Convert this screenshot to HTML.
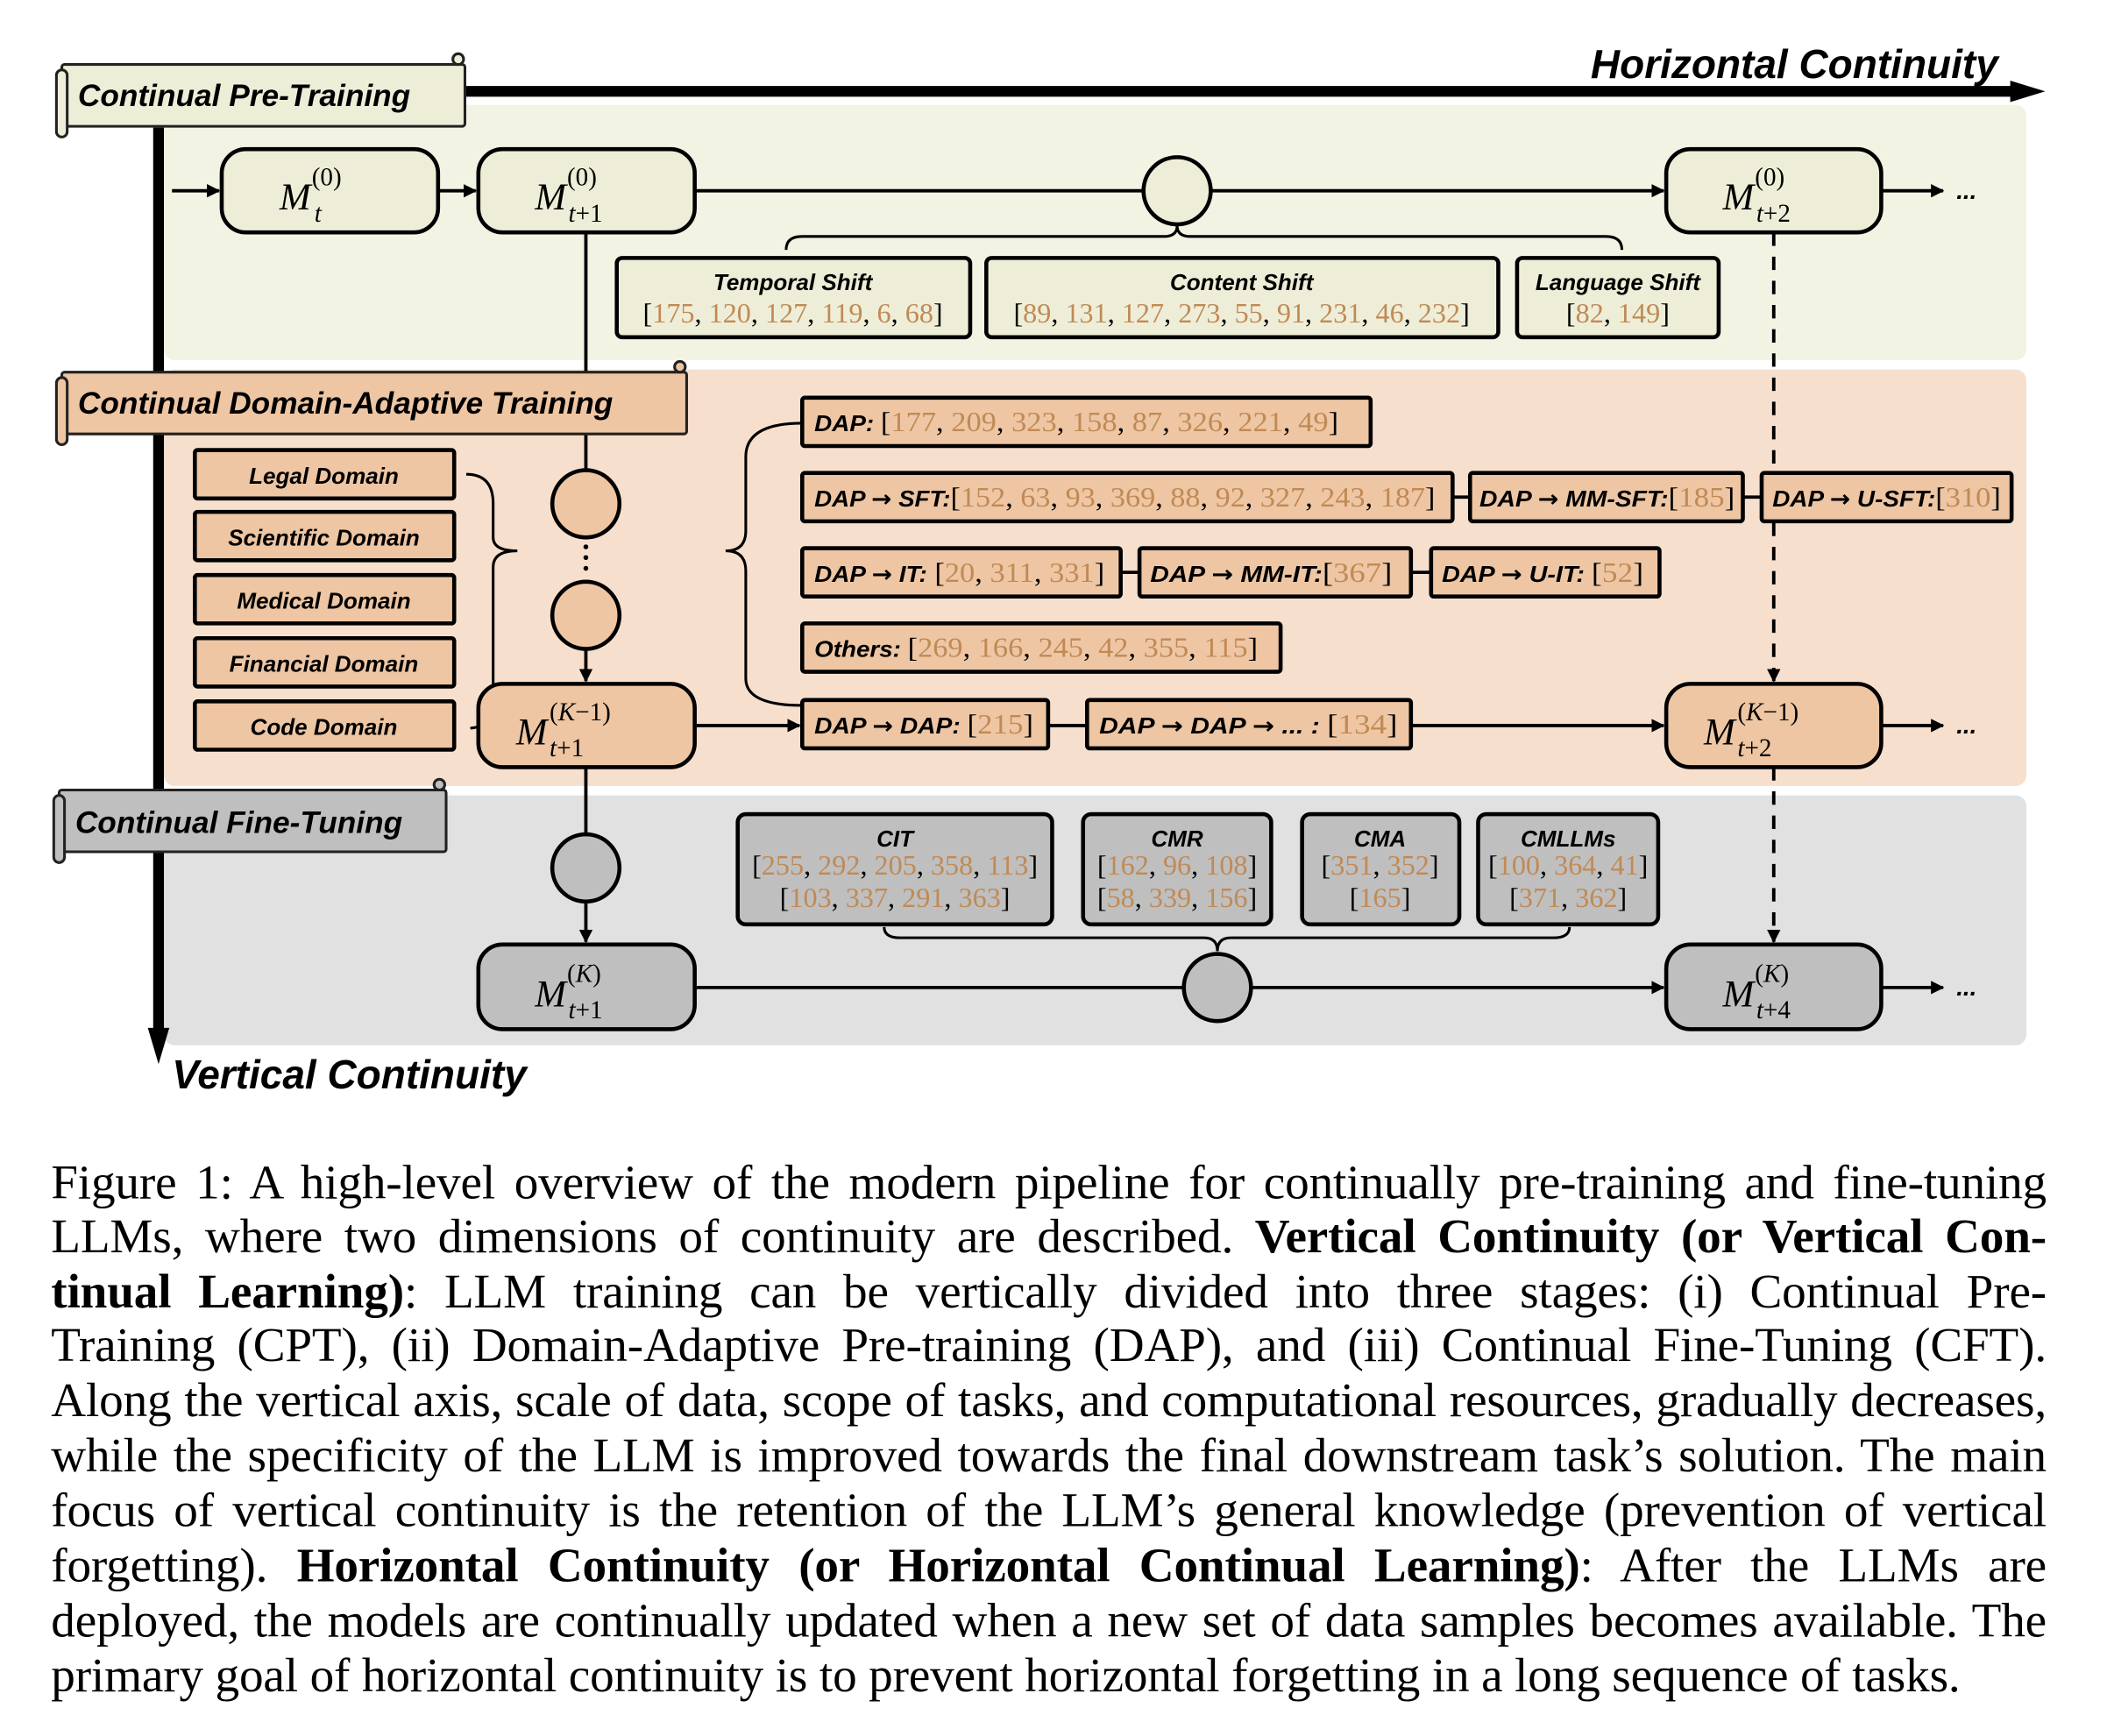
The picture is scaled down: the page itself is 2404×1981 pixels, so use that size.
<!DOCTYPE html>
<html><head><meta charset="utf-8"><style>
html,body{margin:0;padding:0;background:#fff;width:2404px;height:1980px;overflow:hidden}
#w{position:absolute;left:0;top:0;width:1568px;height:1292px;transform:scale(1.53316);transform-origin:0 0}
svg{position:absolute;left:0;top:0}
.cap{position:absolute;left:38px;width:1485px;font-family:"Liberation Serif",serif;font-size:36px;line-height:41px;text-align:justify;text-align-last:justify;white-space:nowrap;letter-spacing:-0.1px}
.cap.last{text-align-last:left}
.lb{font-family:"Liberation Sans",sans-serif;font-weight:bold;font-style:italic}
.ar{font-family:"DejaVu Sans",sans-serif;font-weight:bold;font-style:normal}
.nm{font-family:"Liberation Serif",serif;fill:#000}
.o{fill:#c08a55}
</style></head><body><div id="w">
<svg width="1568" height="1292" viewBox="0 0 1568 1292">
<defs>
<marker id="a" viewBox="0 0 10 10" refX="9" refY="5" markerWidth="4" markerHeight="4" orient="auto"><path d="M0,0L10,5L0,10z" fill="#000"/></marker>
</defs>
<rect x="122" y="78" width="1386" height="190" rx="8" fill="#f3f3e4"/>
<rect x="122" y="275" width="1386" height="310" rx="8" fill="#f7dfcd"/>
<rect x="122" y="592" width="1386" height="186" rx="8" fill="#e1e1e1"/>
<line x1="340" y1="68" x2="1500" y2="68" stroke="#000" stroke-width="8"/>
<path d="M1496,60L1522,68L1496,76z" fill="#000"/>
<line x1="118" y1="95" x2="118" y2="770" stroke="#000" stroke-width="8"/>
<path d="M110,765L118,792L126,765z" fill="#000"/>
<text x="1487" y="58" text-anchor="end" class="lb" font-size="30">Horizontal Continuity</text>
<text x="128" y="810" class="lb" font-size="30">Vertical Continuity</text>
<g stroke="#000" stroke-width="2.5" fill="none">
<line x1="128" y1="142" x2="163" y2="142" marker-end="url(#a)"/>
<line x1="326" y1="142" x2="354" y2="142" marker-end="url(#a)"/>
<line x1="517" y1="142" x2="851" y2="142"/>
<line x1="901" y1="142" x2="1238" y2="142" marker-end="url(#a)"/>
<line x1="1400" y1="142" x2="1446" y2="142" marker-end="url(#a)"/>
<line x1="436" y1="173" x2="436" y2="350"/>
<line x1="436" y1="483" x2="436" y2="507" marker-end="url(#a)"/>
<line x1="517" y1="540" x2="595" y2="540" marker-end="url(#a)"/>
<line x1="780" y1="540" x2="809" y2="540"/>
<line x1="1050" y1="540" x2="1238" y2="540" marker-end="url(#a)"/>
<line x1="1400" y1="540" x2="1446" y2="540" marker-end="url(#a)"/>
<line x1="1081" y1="370" x2="1094" y2="370"/>
<line x1="1297" y1="370" x2="1311" y2="370"/>
<line x1="834" y1="426" x2="848" y2="426"/>
<line x1="1050" y1="426" x2="1065" y2="426"/>
<line x1="436" y1="571" x2="436" y2="621"/>
<line x1="436" y1="671" x2="436" y2="701" marker-end="url(#a)"/>
<line x1="517" y1="735" x2="881" y2="735"/>
<line x1="931" y1="735" x2="1238" y2="735" marker-end="url(#a)"/>
<line x1="1400" y1="735" x2="1446" y2="735" marker-end="url(#a)"/>
<line x1="1320" y1="173" x2="1320" y2="507" stroke-dasharray="10,8" marker-end="url(#a)"/>
<line x1="1320" y1="571" x2="1320" y2="701" stroke-dasharray="10,8" marker-end="url(#a)"/>
<path d="M585,186 Q585,176 597,176 L866,176 Q876,176 876,168 Q876,176 886,176 L1195,176 Q1207,176 1207,186" stroke-width="2"/>
<path d="M347,353 Q367,353 367,375 L367,400 Q367,410 385,410 Q367,410 367,422 L367,530 Q367,540 350,542" stroke-width="2"/>
<path d="M597,315 Q555,315 555,340 L555,395 Q555,410 540,410 Q555,410 555,425 L555,505 Q555,525 597,525" stroke-width="2"/>
<path d="M658,690 Q658,698 670,698 L896,698 Q906,698 906,708 Q906,698 916,698 L1156,698 Q1168,698 1168,690" stroke-width="2"/>
</g>
<g stroke="#222" stroke-width="2">
<rect x="46" y="48" width="300" height="46" rx="2" fill="#eeeed8"/>
<rect x="42" y="52" width="8" height="50" rx="4" fill="#eeeed8"/>
<circle cx="341" cy="44" r="4" fill="#eeeed8"/>
<rect x="46" y="277" width="465" height="46" rx="2" fill="#eec6a3"/>
<rect x="42" y="281" width="8" height="50" rx="4" fill="#eec6a3"/>
<circle cx="506" cy="273" r="4" fill="#eec6a3"/>
<rect x="44" y="588" width="288" height="46" rx="2" fill="#bfbfbf"/>
<rect x="40" y="592" width="8" height="50" rx="4" fill="#bfbfbf"/>
<circle cx="327" cy="584" r="4" fill="#bfbfbf"/>
</g>
<text x="58" y="79" class="lb" font-size="23">Continual Pre-Training</text>
<text x="58" y="308" class="lb" font-size="23">Continual Domain-Adaptive Training</text>
<text x="56" y="620" class="lb" font-size="23">Continual Fine-Tuning</text>
<g fill="#000"><circle cx="436" cy="407" r="1.8"/><circle cx="436" cy="415" r="1.8"/><circle cx="436" cy="423" r="1.8"/></g>
<g class="lb" font-size="18"><text x="1456" y="148">...</text><text x="1456" y="546">...</text><text x="1456" y="741">...</text></g>
<g stroke="#000" stroke-width="3">
<circle cx="876" cy="142" r="25" fill="#eeeed8"/>
<circle cx="436" cy="375" r="25" fill="#eec6a3"/>
<circle cx="436" cy="458" r="25" fill="#eec6a3"/>
<circle cx="436" cy="646" r="25" fill="#bfbfbf"/>
<circle cx="906" cy="735" r="25" fill="#bfbfbf"/>
</g>
<g stroke="#000" stroke-width="3">
<rect x="165" y="111" width="161" height="62" rx="18" fill="#eeeed8"/>
<rect x="356" y="111" width="161" height="62" rx="18" fill="#eeeed8"/>
<rect x="1240" y="111" width="160" height="62" rx="18" fill="#eeeed8"/>
<rect x="356" y="509" width="161" height="62" rx="18" fill="#eec6a3"/>
<rect x="1240" y="509" width="160" height="62" rx="18" fill="#eec6a3"/>
<rect x="356" y="703" width="161" height="63" rx="18" fill="#bfbfbf"/>
<rect x="1240" y="703" width="160" height="63" rx="18" fill="#bfbfbf"/>
</g>
<g font-family="Liberation Serif,serif" font-style="italic">
<g font-size="28"><text x="208" y="156">M</text><text x="398" y="156">M</text><text x="1282" y="156">M</text><text x="384" y="554">M</text><text x="1268" y="554">M</text><text x="398" y="749">M</text><text x="1282" y="749">M</text></g>
<g font-size="19">
<text x="232" y="138" font-style="normal">(0)</text><text x="234" y="165">t</text>
<text x="422" y="138" font-style="normal">(0)</text><text x="423" y="165">t<tspan font-style="normal">+1</tspan></text>
<text x="1306" y="138" font-style="normal">(0)</text><text x="1307" y="165">t<tspan font-style="normal">+2</tspan></text>
<text x="409" y="536"><tspan font-style="normal">(</tspan>K<tspan font-style="normal">−1)</tspan></text><text x="409" y="563">t<tspan font-style="normal">+1</tspan></text>
<text x="1293" y="536"><tspan font-style="normal">(</tspan>K<tspan font-style="normal">−1)</tspan></text><text x="1293" y="563">t<tspan font-style="normal">+2</tspan></text>
<text x="422" y="731"><tspan font-style="normal">(</tspan>K<tspan font-style="normal">)</tspan></text><text x="423" y="758">t<tspan font-style="normal">+1</tspan></text>
<text x="1306" y="731"><tspan font-style="normal">(</tspan>K<tspan font-style="normal">)</tspan></text><text x="1307" y="758">t<tspan font-style="normal">+4</tspan></text>
</g></g>
<g stroke="#000" stroke-width="3">
<rect x="459" y="192" width="263" height="59" rx="4" fill="#eeeed8"/>
<rect x="734" y="192" width="381" height="59" rx="4" fill="#eeeed8"/>
<rect x="1129" y="192" width="150" height="59" rx="4" fill="#eeeed8"/>
<g fill="#eec6a3">
<rect x="145" y="335" width="193" height="36" rx="2"/><rect x="145" y="381" width="193" height="36" rx="2"/><rect x="145" y="428" width="193" height="36" rx="2"/><rect x="145" y="475" width="193" height="36" rx="2"/><rect x="145" y="522" width="193" height="36" rx="2"/>
<rect x="597" y="296" width="423" height="36" rx="2"/>
<rect x="597" y="352" width="484" height="36" rx="2"/><rect x="1094" y="352" width="203" height="36" rx="2"/><rect x="1311" y="352" width="186" height="36" rx="2"/>
<rect x="597" y="408" width="237" height="36" rx="2"/><rect x="848" y="408" width="202" height="36" rx="2"/><rect x="1065" y="408" width="170" height="36" rx="2"/>
<rect x="597" y="464" width="356" height="36" rx="2"/>
<rect x="597" y="521" width="183" height="36" rx="2"/><rect x="809" y="521" width="241" height="36" rx="2"/>
</g>
<g fill="#bfbfbf">
<rect x="549" y="606" width="234" height="82" rx="6"/><rect x="806" y="606" width="140" height="82" rx="6"/><rect x="969" y="606" width="117" height="82" rx="6"/><rect x="1100" y="606" width="134" height="82" rx="6"/>
</g></g>
<g class="lb" font-size="17" text-anchor="middle">
<text x="590" y="216">Temporal Shift</text><text x="924" y="216">Content Shift</text><text x="1204" y="216">Language Shift</text>
<text x="241" y="360">Legal Domain</text><text x="241" y="406">Scientific Domain</text><text x="241" y="453">Medical Domain</text><text x="241" y="500">Financial Domain</text><text x="241" y="547">Code Domain</text>
<text x="666" y="630">CIT</text><text x="876" y="630">CMR</text><text x="1027" y="630">CMA</text><text x="1167" y="630">CMLLMs</text>
</g>
<g class="nm" font-size="21" text-anchor="middle">
<text x="590" y="240">[<tspan class="o">175</tspan>, <tspan class="o">120</tspan>, <tspan class="o">127</tspan>, <tspan class="o">119</tspan>, <tspan class="o">6</tspan>, <tspan class="o">68</tspan>]</text>
<text x="924" y="240">[<tspan class="o">89</tspan>, <tspan class="o">131</tspan>, <tspan class="o">127</tspan>, <tspan class="o">273</tspan>, <tspan class="o">55</tspan>, <tspan class="o">91</tspan>, <tspan class="o">231</tspan>, <tspan class="o">46</tspan>, <tspan class="o">232</tspan>]</text>
<text x="1204" y="240">[<tspan class="o">82</tspan>, <tspan class="o">149</tspan>]</text>
<text x="666" y="651">[<tspan class="o">255</tspan>, <tspan class="o">292</tspan>, <tspan class="o">205</tspan>, <tspan class="o">358</tspan>, <tspan class="o">113</tspan>]</text>
<text x="666" y="675">[<tspan class="o">103</tspan>, <tspan class="o">337</tspan>, <tspan class="o">291</tspan>, <tspan class="o">363</tspan>]</text>
<text x="876" y="651">[<tspan class="o">162</tspan>, <tspan class="o">96</tspan>, <tspan class="o">108</tspan>]</text>
<text x="876" y="675">[<tspan class="o">58</tspan>, <tspan class="o">339</tspan>, <tspan class="o">156</tspan>]</text>
<text x="1027" y="651">[<tspan class="o">351</tspan>, <tspan class="o">352</tspan>]</text>
<text x="1027" y="675">[<tspan class="o">165</tspan>]</text>
<text x="1167" y="651">[<tspan class="o">100</tspan>, <tspan class="o">364</tspan>, <tspan class="o">41</tspan>]</text>
<text x="1167" y="675">[<tspan class="o">371</tspan>, <tspan class="o">362</tspan>]</text>
</g>
<g class="nm" font-size="21">
<text x="606" y="321" textLength="390" lengthAdjust="spacingAndGlyphs"><tspan class="lb" font-size="17">DAP: </tspan> [<tspan class="o">177</tspan>, <tspan class="o">209</tspan>, <tspan class="o">323</tspan>, <tspan class="o">158</tspan>, <tspan class="o">87</tspan>, <tspan class="o">326</tspan>, <tspan class="o">221</tspan>, <tspan class="o">49</tspan>]</text>
<text x="606" y="377" textLength="462" lengthAdjust="spacingAndGlyphs"><tspan class="lb" font-size="17">DAP <tspan class="ar">→</tspan> SFT:</tspan>[<tspan class="o">152</tspan>, <tspan class="o">63</tspan>, <tspan class="o">93</tspan>, <tspan class="o">369</tspan>, <tspan class="o">88</tspan>, <tspan class="o">92</tspan>, <tspan class="o">327</tspan>, <tspan class="o">243</tspan>, <tspan class="o">187</tspan>]</text>
<text x="1101" y="377" textLength="190" lengthAdjust="spacingAndGlyphs"><tspan class="lb" font-size="17">DAP <tspan class="ar">→</tspan> MM-SFT:</tspan>[<tspan class="o">185</tspan>]</text>
<text x="1319" y="377" textLength="170" lengthAdjust="spacingAndGlyphs"><tspan class="lb" font-size="17">DAP <tspan class="ar">→</tspan> U-SFT:</tspan>[<tspan class="o">310</tspan>]</text>
<text x="606" y="433" textLength="216" lengthAdjust="spacingAndGlyphs"><tspan class="lb" font-size="17">DAP <tspan class="ar">→</tspan> IT:</tspan> [<tspan class="o">20</tspan>, <tspan class="o">311</tspan>, <tspan class="o">331</tspan>]</text>
<text x="856" y="433" textLength="180" lengthAdjust="spacingAndGlyphs"><tspan class="lb" font-size="17">DAP <tspan class="ar">→</tspan> MM-IT:</tspan>[<tspan class="o">367</tspan>]</text>
<text x="1073" y="433" textLength="150" lengthAdjust="spacingAndGlyphs"><tspan class="lb" font-size="17">DAP <tspan class="ar">→</tspan> U-IT: </tspan> [<tspan class="o">52</tspan>]</text>
<text x="606" y="489" textLength="330" lengthAdjust="spacingAndGlyphs"><tspan class="lb" font-size="17">Others: </tspan>[<tspan class="o">269</tspan>, <tspan class="o">166</tspan>, <tspan class="o">245</tspan>, <tspan class="o">42</tspan>, <tspan class="o">355</tspan>, <tspan class="o">115</tspan>]</text>
<text x="606" y="546" textLength="163" lengthAdjust="spacingAndGlyphs"><tspan class="lb" font-size="17">DAP <tspan class="ar">→</tspan> DAP: </tspan> [<tspan class="o">215</tspan>]</text>
<text x="818" y="546" textLength="222" lengthAdjust="spacingAndGlyphs"><tspan class="lb" font-size="17">DAP <tspan class="ar">→</tspan> DAP <tspan class="ar">→</tspan> ... : </tspan>[<tspan class="o">134</tspan>]</text>
</g>
</svg>
<div class="cap" style="top:860px">Figure 1: A high-level overview of the modern pipeline for continually pre-training and fine-tuning</div>
<div class="cap" style="top:900px">LLMs, where two dimensions of continuity are described. <b>Vertical Continuity (or Vertical Con-</b></div>
<div class="cap" style="top:941px"><b>tinual Learning)</b>: LLM training can be vertically divided into three stages: (i) Continual Pre-</div>
<div class="cap" style="top:981px">Training (CPT), (ii) Domain-Adaptive Pre-training (DAP), and (iii) Continual Fine-Tuning (CFT).</div>
<div class="cap" style="top:1022px">Along the vertical axis, scale of data, scope of tasks, and computational resources, gradually decreases,</div>
<div class="cap" style="top:1063px">while the specificity of the LLM is improved towards the final downstream task’s solution. The main</div>
<div class="cap" style="top:1104px">focus of vertical continuity is the retention of the LLM’s general knowledge (prevention of vertical</div>
<div class="cap" style="top:1145px">forgetting). <b>Horizontal Continuity (or Horizontal Continual Learning)</b>: After the LLMs are</div>
<div class="cap" style="top:1186px">deployed, the models are continually updated when a new set of data samples becomes available. The</div>
<div class="cap last" style="top:1227px">primary goal of horizontal continuity is to prevent horizontal forgetting in a long sequence of tasks.</div>
</div></body></html>
